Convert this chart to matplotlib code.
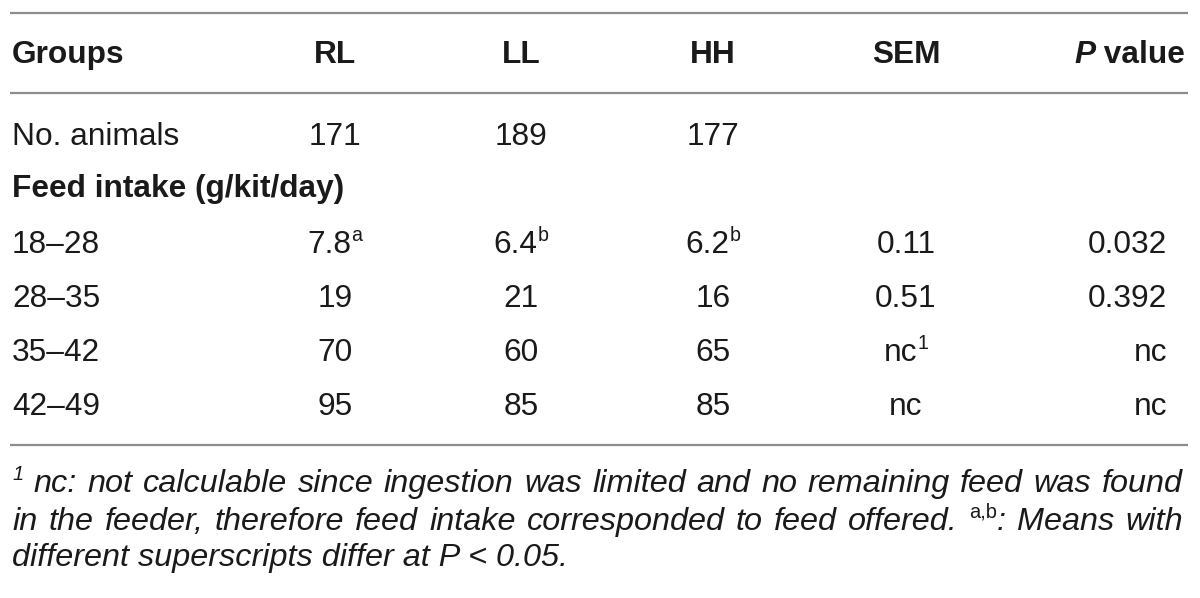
import matplotlib
matplotlib.use('Agg')
import matplotlib.pyplot as plt

# ---- data ----
headers = ['Groups', 'RL', 'LL', 'HH', 'SEM', 'P value']
n_animals = ['171', '189', '177']
section = 'Feed intake (g/kit/day)'
periods = ['18–28', '28–35', '35–42', '42–49']
rl = ['7.8', '19', '70', '95']
rl_sup = ['a', '', '', '']
ll = ['6.4', '21', '60', '85']
ll_sup = ['b', '', '', '']
hh = ['6.2', '16', '65', '85']
hh_sup = ['b', '', '', '']
sem = ['0.11', '0.51', 'nc', 'nc']
sem_sup = ['', '', '1', '']
pval = ['0.032', '0.392', 'nc', 'nc']

FONT = 'Liberation Sans'
FS = 22.8
FS_NOTE = 23.3
COL = '#1a1a1a'
LINE = '#8c8c8c'

fig = plt.figure(figsize=(12, 5.98), dpi=100)
ax = fig.add_axes([0, 0, 1, 1])
ax.set_xlim(0, 1200)
ax.set_ylim(598, 0)
ax.axis('off')
renderer = fig.canvas.get_renderer()

STY = {
    'n': dict(fontweight='normal', fontstyle='normal'),
    'b': dict(fontweight='bold', fontstyle='normal'),
    'i': dict(fontweight='normal', fontstyle='italic'),
    'bi': dict(fontweight='bold', fontstyle='italic'),
    'sup': dict(fontweight='normal', fontstyle='normal'),
    'supi': dict(fontweight='normal', fontstyle='italic'),
}


def make(x, y, txt, kind, fs):
    size = fs * 0.62 if kind.startswith('sup') else fs
    dy = -fs * 0.52 if kind.startswith('sup') else 0
    t = ax.text(x, y + dy, txt, fontsize=size, family=FONT, color=COL,
                ha='left', va='baseline', **STY[kind])
    return t


def width(t):
    return t.get_window_extent(renderer).width


def rich(x, y, tokens, ha='left', fs=FS):
    objs = [make(0, y, s, k, fs) for s, k in tokens]
    ws = [width(o) for o in objs]
    tot = sum(ws)
    if ha == 'center':
        x0 = x - tot / 2
    elif ha == 'right':
        x0 = x - tot
    else:
        x0 = x
    for o, w in zip(objs, ws):
        o.set_x(x0)
        x0 += w
    return tot


def justify(y, words, x0, x1, fs):
    groups = []
    for wtoks in words:
        objs = [make(0, y, s, k, fs) for s, k in wtoks]
        groups.append((objs, [width(o) for o in objs]))
    tot = sum(sum(ws) for _, ws in groups)
    gap = (x1 - x0 - tot) / (len(groups) - 1)
    x = x0
    for objs, ws in groups:
        for o, w in zip(objs, ws):
            o.set_x(x)
            x += w
        x += gap


# rules
for yl in (13, 93, 445):
    ax.plot([10, 1188], [yl, yl], color=LINE, lw=1.6, solid_capstyle='butt')

cx = [335, 521, 713, 906]
p_right = 1167

# header
rich(12, 63, [(headers[0], 'b')])
for c, h in zip(cx, headers[1:5]):
    rich(c, 63, [(h, 'b')], ha='center')
rich(1185, 63, [('P', 'bi'), (' value', 'b')], ha='right')

# No. animals
rich(12, 145, [('No. animals', 'n')])
for c, v in zip(cx[:3], n_animals):
    rich(c, 145, [(v, 'n')], ha='center')

# section
rich(12, 197, [(section, 'b')])

row_y = [253, 307, 361, 415]
for i, yy in enumerate(row_y):
    rich(12, yy, [(periods[i], 'n')])
    for c, vals, sups in ((cx[0], rl, rl_sup), (cx[1], ll, ll_sup),
                          (cx[2], hh, hh_sup), (cx[3], sem, sem_sup)):
        toks = [(vals[i], 'n')]
        if sups[i]:
            toks.append((sups[i], 'sup'))
        rich(c, yy, toks, ha='center')
    rich(p_right, yy, [(pval[i], 'n')], ha='right')

# footnote
l1 = [[('1', 'supi')]] + [[(w, 'i')] for w in
      'nc: not calculable since ingestion was limited and no remaining feed was found'.split()]
justify(492, l1, 12, 1183, FS_NOTE)
l2 = [[(w, 'i')] for w in
      'in the feeder, therefore feed intake corresponded to feed offered.'.split()]
l2 += [[('a,b', 'sup'), (':', 'i')], [('Means', 'i')], [('with', 'i')]]
justify(530, l2, 12, 1183, FS_NOTE)
rich(12, 566, [('different superscripts differ at P < 0.05.', 'i')], fs=FS_NOTE)

fig.savefig('out.png', dpi=100)
